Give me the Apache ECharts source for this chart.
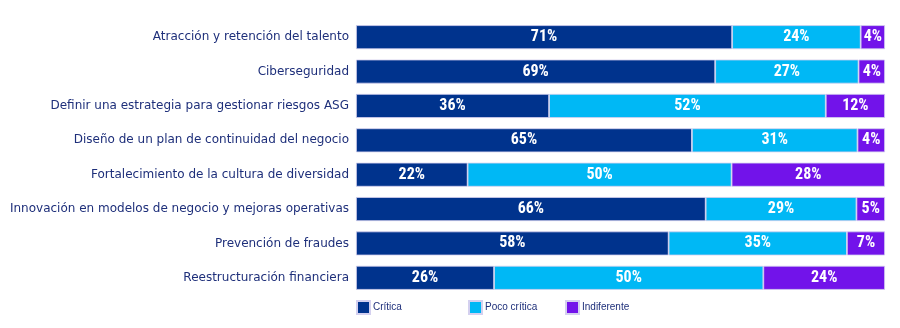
<!DOCTYPE html>
<html><head><meta charset="utf-8">
<script src="https://cdn.jsdelivr.net/npm/echarts@6/dist/echarts.min.js"></script>
<style>html,body{margin:0;padding:0;background:#fff}#c{width:900px;height:328px}</style>
</head><body><div id="c"></div>
<script>
const categories = [
  "Atracción y retención del talento",
  "Ciberseguridad",
  "Definir una estrategia para gestionar riesgos ASG",
  "Diseño de un plan de continuidad del negocio",
  "Fortalecimiento de la cultura de diversidad",
  "Innovación en modelos de negocio y mejoras operativas",
  "Prevención de fraudes",
  "Reestructuración financiera"
];
const seriesNames = ["Crítica", "Poco crítica", "Indiferente"];
// bar lengths as measured in the picture (share of the full bar, %)
const critica = [71.1, 67.9, 36.5, 63.5, 21.1, 66.1, 59.1, 26.1];
const pocoCritica = [24.3, 27.1, 52.3, 31.3, 49.9, 28.5, 33.7, 50.9];
const indiferente = [4.6, 5.0, 11.2, 5.2, 29.0, 5.4, 7.2, 23.0];
// labels as printed in the picture
const criticaLabels = ["71%", "69%", "36%", "65%", "22%", "66%", "58%", "26%"];
const pocoCriticaLabels = ["24%", "27%", "52%", "31%", "50%", "29%", "35%", "50%"];
const indiferenteLabels = ["4%", "4%", "12%", "4%", "28%", "5%", "7%", "24%"];
const colors = ["#00338D", "#00B8F5", "#7213EA"];

const raw = [critica, pocoCritica, indiferente];
const labels = [criticaLabels, pocoCriticaLabels, indiferenteLabels];
const totals = categories.map((_, i) => raw.reduce((s, a) => s + a[i], 0));

const chart = echarts.init(document.getElementById('c'), null, {renderer: 'canvas'});
const labelFont = {
  show: true, position: 'inside', color: '#fff',
  fontFamily: "'Roboto Condensed','Roboto',sans-serif",
  fontWeight: 'bold', fontSize: 16
};
const series = raw.map((arr, k) => ({
  name: seriesNames[k], type: 'bar', stack: 'total', barWidth: 24,
  data: arr.map((v, i) => ({value: v / totals[i] * 100, lbl: labels[k][i]})),
  itemStyle: {color: colors[k], borderColor: '#d4d0ef', borderWidth: 0.8},
  label: Object.assign({}, labelFont, {formatter: p => p.data.lbl}),
  emphasis: {disabled: true}
}));
const legendBase = {
  top: 300, padding: 0, itemWidth: 13, itemHeight: 13, itemGap: 3,
  icon: 'rect',
  textStyle: {color: '#1e2f7a', fontSize: 10, fontFamily: "'Liberation Sans',Arial,sans-serif", padding: [0,0,0,-2]}
};
chart.setOption({
  animation: false,
  grid: {left: 356, right: 15, top: 20, bottom: 33, containLabel: false},
  xAxis: {type: 'value', min: 0, max: 100, show: false},
  yAxis: {
    type: 'category', data: categories, inverse: true,
    axisLine: {show: false}, axisTick: {show: false}, splitLine: {show: false},
    axisLabel: {color: '#1e2f7a', fontSize: 12, margin: 7,
      fontFamily: "'DejaVu Sans',sans-serif"}
  },
  legend: [
    Object.assign({}, legendBase, {left: 356, data: [seriesNames[0]]}),
    Object.assign({}, legendBase, {left: 468, data: [seriesNames[1]]}),
    Object.assign({}, legendBase, {left: 565, data: [seriesNames[2]]})
  ],
  series: series
});
</script></body></html>
